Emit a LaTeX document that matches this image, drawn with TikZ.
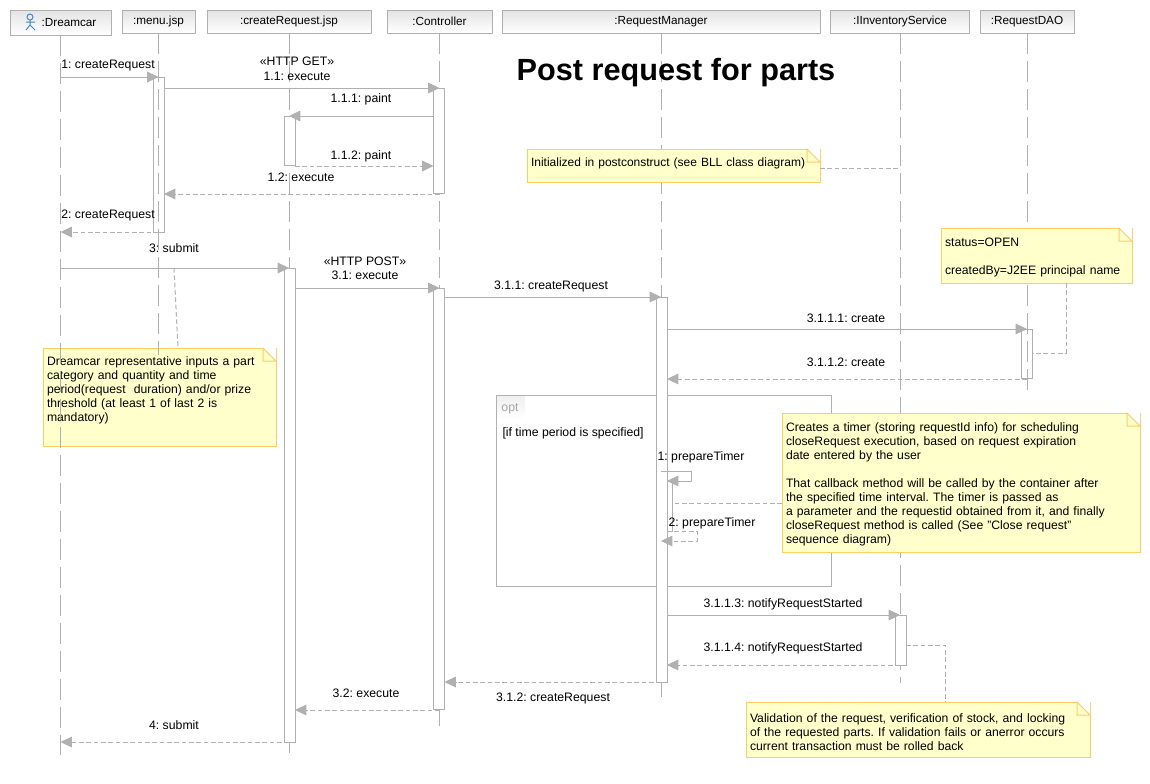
\documentclass[tikz,border=0pt]{standalone}
\usepackage{fontspec}
\setmainfont{Liberation Sans}
\usetikzlibrary{arrows.meta,calc}
\def\px{0.75pt}
\definecolor{linegray}{HTML}{B0B0B0}
\definecolor{notefill}{HTML}{FFFFCC}
\definecolor{noteline}{HTML}{FFCC66}
\definecolor{actorblue}{HTML}{4A86C8}
\tikzset{
  headbox/.style={draw=linegray,top color=black!11,bottom color=white,inner sep=0pt,outer sep=0pt,font=\fontsize{8.8}{10}\selectfont},
  lifeline/.style={draw=linegray,dash pattern=on 15.75pt off 5.25pt},
  actbox/.style={draw=linegray,fill=white,inner sep=0pt,outer sep=0pt,minimum width=11*\px},
  msg/.style={draw=linegray,->},
  ret/.style={draw=linegray,->,dash pattern=on 3.5pt off 2pt},
  link/.style={draw=linegray,dash pattern=on 3.5pt off 2pt},
  msglabel/.style={inner sep=0pt,font=\fontsize{9.2}{10}\selectfont},
  notebox/.style={draw=noteline,fill=notefill,anchor=north west,inner xsep=3pt,inner ysep=0pt,outer sep=0pt,align=left,font=\fontsize{9.15}{10.5}\selectfont,execute at begin node=\rule{0pt}{10pt}},
}
\newcommand{\notefold}[1]{
  \fill[white] ($(#1.north east)+(-13,0)$) -- (#1.north east) -- ($(#1.north east)+(0,13)$) -- cycle;
  \draw[noteline,fill=notefill] ($(#1.north east)+(-13,0)$) -- ($(#1.north east)+(0,13)$) -- ($(#1.north east)+(-13,13)$) -- cycle;
}
\frenchspacing
\begin{document}
\begin{tikzpicture}[x=\px,y=-\px,line width=\px,>={Triangle[length=8.5pt,width=8pt]}]
\useasboundingbox (0,0) rectangle (1150,783);
% combined fragment
\draw[linegray] (496,395) rectangle (831,586);
\shade[top color=black!6,bottom color=white] (497,396) -- (525,396) -- (525,414) -- (519,420) -- (497,420) -- cycle;
\node[msglabel,text=black!35] (optTag) at (510,409) {opt};
\node[msglabel,anchor=west] (optGuard) at (502,433) {[if time period is specified]};
% heads of the lifelines
\foreach \nm/\lbl/\cx/\w/\hh in {hdDreamcar/\hspace*{12.75pt}:Dreamcar/60.5/101/25,hdMenu/:menu.jsp/158.5/73/23,hdCreate/:createRequest.jsp/289/164/23,hdCtrl/:Controller/439.5/105/23,hdManager/:RequestManager/661/318/23,hdInv/:IInventoryService/900/139/23,hdDao/:RequestDAO/1027/94/23}
    \node[headbox,minimum width=\w*\px,minimum height=\hh*\px,anchor=north] (\nm) at (\cx,10) {\lbl};
\draw[actorblue] (30,17) circle (3);
\draw[actorblue] (30,20)--(30,25) (26,22)--(35,22) (26,30)--(30,25)--(35,30);
% lifelines
\coordinate (endCreate) at (289,753);
\coordinate (endCtrl) at (439.5,726);
\coordinate (endManager) at (661,697);
\coordinate (endInv) at (900,683);
\coordinate (endDao) at (1027,390);
\foreach \nm in {Create,Ctrl,Manager,Inv}
    \draw[lifeline] (hd\nm.south) -- (end\nm);
% activations
\foreach \nm/\cx/\ttop/\bbot in {actMenu/158.5/77/232,actPaint/289.5/116/165,actSubmit/289.5/268/742,actCtrlA/439/88/193,actCtrlB/439/288/709,actManager/661.5/297/682,actInv/900.5/615/665,actDao/1027/329/378}
    \node[actbox,minimum height=(\bbot-\ttop)*\px] (\nm) at (\cx,{(\ttop+\bbot)/2}) {};
\node[actbox,draw=none,fill=none,minimum height=50*\px] (actTimer) at (666.5,506) {};
\draw[linegray] (actTimer.north east) -- (actTimer.south east) -- (actManager.east |- actTimer.south);
\draw[lifeline] (hdDao.south) -- (endDao);
% messages
\draw[msg] (hdDreamcar |- 0,77) -- (hdMenu |- 0,77);
\draw[msg] (actMenu.east |- 0,88) -- (hdCtrl |- 0,88);
\draw[msg] (actCtrlA.west |- 0,116) -- (hdCreate |- 0,116);
\draw[ret] (actPaint.east |- 0,166) -- (actCtrlA.west |- 0,166);
\draw[ret] (hdCtrl |- 0,194) -- (actMenu.east |- 0,194);
\draw[ret] (hdMenu |- 0,232) -- (hdDreamcar |- 0,232);
\draw[msg] (hdDreamcar |- 0,268) -- (hdCreate |- 0,268);
\draw[msg] (actSubmit.east |- 0,288) -- (hdCtrl |- 0,288);
\draw[msg] (actCtrlB.east |- 0,297) -- (hdManager |- 0,297);
\draw[msg] (actManager.east |- 0,329) -- (hdDao |- 0,329);
\draw[ret] (hdDao |- 0,379) -- (actManager.east |- 0,379);
\draw[msg] (hdManager |- 0,471) -- ++(30,0) -- ++(0,10) -- (actManager.east |- 0,481);
\draw[ret] (actManager.east |- 0,531) -- ++(30,0) -- ++(0,10) -- (hdManager |- 0,541);
\draw[msg] (actManager.east |- 0,615) -- (hdInv |- 0,615);
\draw[ret] (hdInv |- 0,665) -- (actManager.east |- 0,665);
\draw[ret] (hdManager |- 0,682) -- (actCtrlB.east |- 0,682);
\draw[ret] (hdCtrl |- 0,710) -- (actSubmit.east |- 0,710);
\draw[ret] (hdCreate |- 0,742) -- (hdDreamcar |- 0,742);
% message labels
\foreach \nm/\x/\y/\txt in {lbA/108/66/1: createRequest,lbB/297/61/«HTTP GET»,lbC/297/76/1.1: execute,lbD/361/99/1.1.1: paint,lbE/361/156/1.1.2: paint,lbF/301/177/1.2: execute,lbG/108/215/2: createRequest,lbH/174/248/3: submit,lbI/365/261/«HTTP POST»,lbJ/365/275/3.1: execute,lbK/551/286/3.1.1: createRequest,lbL/846/318/3.1.1.1: create,lbM/846/362/3.1.1.2: create,lbN/701/457/1: prepareTimer,lbO/712/523/2: prepareTimer,lbP/783/604/3.1.1.3: notifyRequestStarted,lbQ/783/648/3.1.1.4: notifyRequestStarted,lbR/553/698/3.1.2: createRequest,lbS/366/693/3.2: execute,lbT/174/725/4: submit}
    \node[msglabel] (\nm) at (\x,\y) {\txt};
\node[font=\bfseries\fontsize{23}{26}\selectfont,inner sep=0pt] (title) at (676,73) {Post request for parts};
% notes
\node[notebox,text width=285*\px,minimum height=33*\px,text depth=8pt,font=\fontsize{9}{10.5}\selectfont] (noteInit) at (527,149) {Initialized in postconstruct (see BLL class diagram)};
\node[notebox,text width=183*\px,minimum height=55*\px] (noteStatus) at (941,228) {status=OPEN\\[10.5pt]createdBy=J2EE principal name};
\node[notebox,text width=225*\px,minimum height=98*\px] (noteRep) at (43,348) {Dreamcar representative inputs a part\\category and quantity and time\\period(request\ \ duration) and/or prize\\threshold (at least 1 of last 2 is\\mandatory)\\[5.5pt]\mbox{}};
\node[notebox,text width=350*\px,minimum height=139*\px] (noteTimer) at (782,413) {Creates a timer (storing requestId info) for scheduling\\closeRequest execution, based on request expiration\\date entered by the user\\[10.5pt]That callback method will be called by the container after\\the specified time interval. The timer is passed as\\a parameter and the requestid obtained from it, and finally\\closeRequest method is called (See "Close request"\\sequence diagram)};
\node[notebox,text width=336*\px,minimum height=55*\px] (noteValid) at (746,702) {Validation of the request, verification of stock, and locking\\of the requested parts. If validation fails or anerror occurs\\current transaction must be rolled back};
\foreach \nm in {noteInit,noteStatus,noteRep,noteTimer,noteValid}
    \notefold{\nm};
% lifelines that show through the note
\coordinate (endDreamcar) at (60.5,755);
\coordinate (endMenu) at (158.5,355);
\draw[lifeline] (hdDreamcar.south) -- (endDreamcar);
\draw[lifeline] (hdMenu.south) -- (endMenu);
% note links
\coordinate (linkSubmit) at (174,268);
\draw[link] (noteInit.east |- 0,168) -- (hdInv |- 0,168);
\draw[link] (linkSubmit) -- (noteRep.north -| 178,0);
\draw[link] (noteStatus.south -| 1066,0) -- (1066,353) -- (actDao.east |- 0,353);
\draw[link] (noteTimer.west |- 0,503) -- (actTimer.east |- 0,503);
\draw[link] (actInv.east |- 0,645) -- (945,645) -- (noteValid.north -| 945,0);
\end{tikzpicture}
\end{document}
